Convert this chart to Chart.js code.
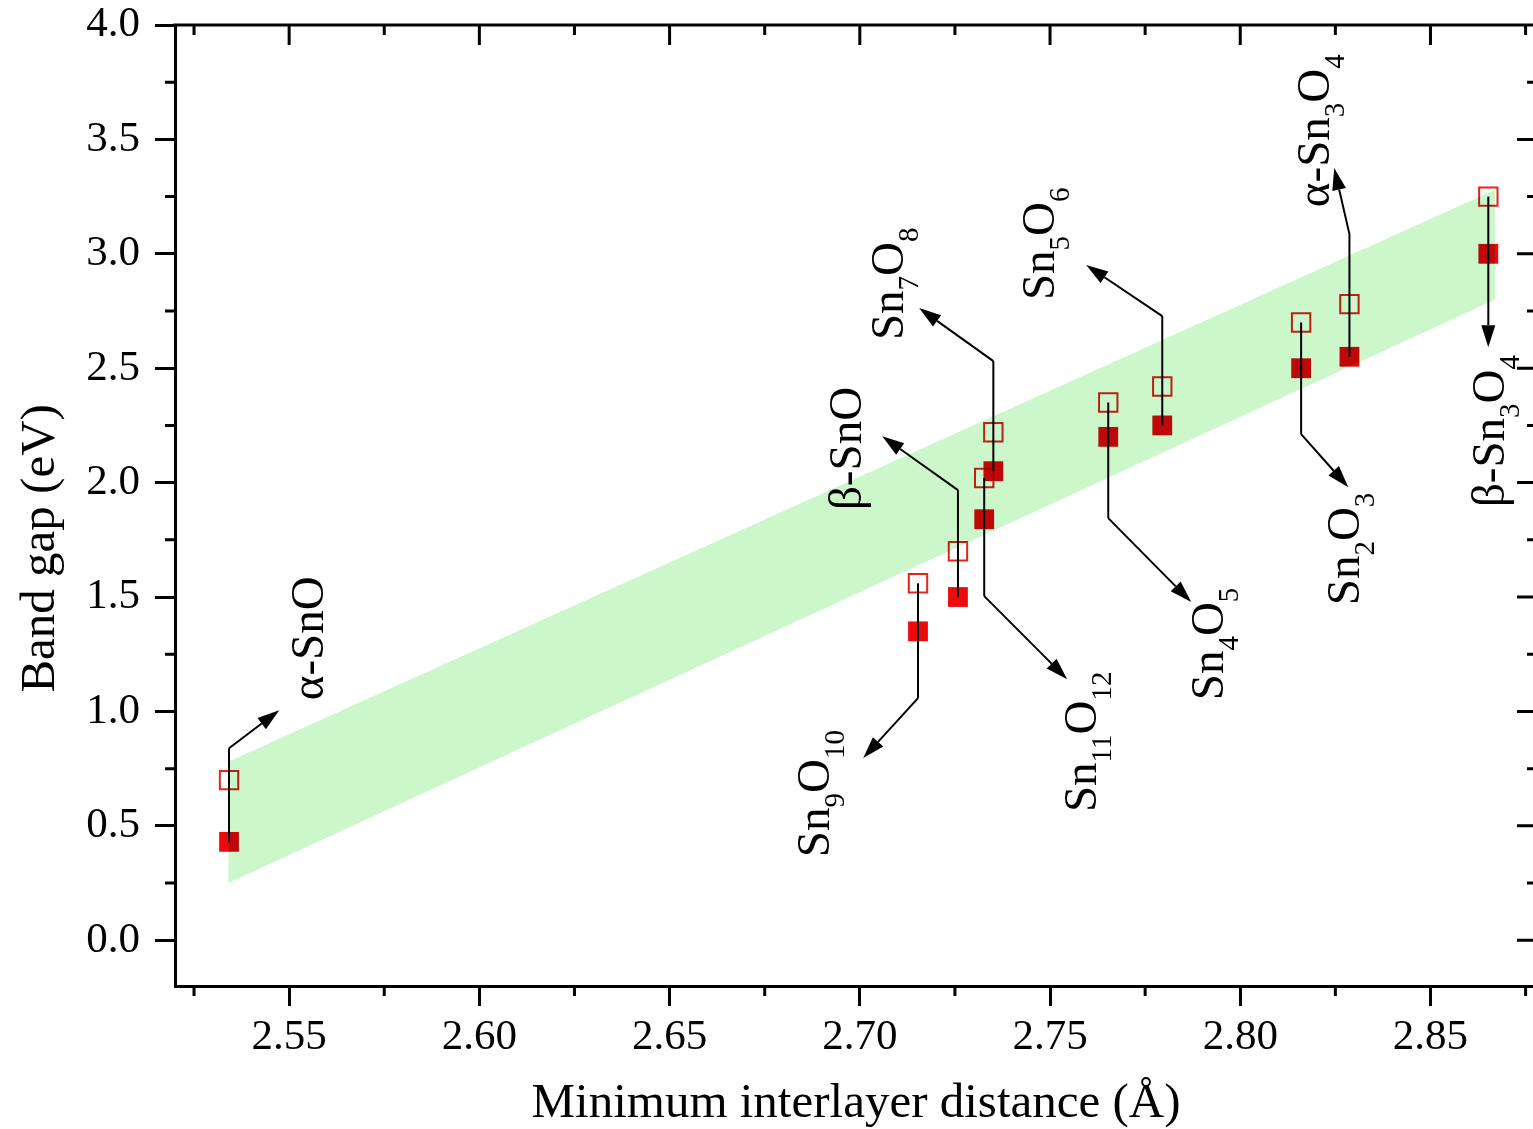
<!DOCTYPE html>
<html>
<head>
<meta charset="utf-8">
<script src="https://cdn.jsdelivr.net/npm/chart.js"></script>
<style>
  html, body { margin: 0; padding: 0; background: #fff; overflow: hidden; }
  #gapChart { display: block; }
</style>
</head>
<body>
<!-- wider than the window: the right frame line falls just outside the picture, as in the figure -->
<canvas id="gapChart" width="1552" height="1129"></canvas>

<script>
// phases, ordered by minimum interlayer distance
const phases = ['α-SnO', 'Sn9O10', 'β-SnO', 'Sn11O12', 'Sn7O8', 'Sn4O5', 'Sn5O6', 'Sn2O3', 'α-Sn3O4', 'β-Sn3O4']
// same names for the plot, "_n" = subscript
const phaseLabels = ['α-SnO', 'Sn_9O_10', 'β-SnO', 'Sn_11O_12', 'Sn_7O_8', 'Sn_4O_5', 'Sn_5O_6', 'Sn_2O_3', 'α-Sn_3O_4', 'β-Sn_3O_4']
const minDistance = [2.5342, 2.7153, 2.7258, 2.7327, 2.7351, 2.7653, 2.7795, 2.8160, 2.8287, 2.8652]
const gapSolid = [0.43, 1.35, 1.50, 1.84, 2.05, 2.20, 2.25, 2.50, 2.55, 3.00]
const gapOpen = [0.70, 1.56, 1.70, 2.02, 2.22, 2.35, 2.42, 2.70, 2.78, 3.25]

// green trend band (two edges)
const bandX = [2.534, 2.867]
const bandTop = [0.78, 3.28]
const bandBottom = [0.25, 2.80]

// callouts, in data units: marker the line starts at, bend height, arrow tip, label start (baseline x, first letter y)
const callouts = [
  {i: 0, from: 'solid', bend: 0.839, tip: [2.5474, 1.005], at: [2.5589, 1.049]},
  {i: 1, from: 'open',  bend: 1.058, tip: [2.7009, 0.796], at: [2.6920, 0.363]},
  {i: 2, from: 'solid', bend: 1.967, tip: [2.7059, 2.203], at: [2.7004, 1.880]},
  {i: 3, from: 'open',  bend: 1.504, tip: [2.7545, 1.141], at: [2.7621, 0.560]},
  {i: 4, from: 'solid', bend: 2.531, tip: [2.7156, 2.763], at: [2.7114, 2.623]},
  {i: 5, from: 'open',  bend: 1.845, tip: [2.7871, 1.478], at: [2.7955, 1.049]},
  {i: 6, from: 'solid', bend: 2.728, tip: [2.7595, 2.951], at: [2.7511, 2.798]},
  {i: 7, from: 'open',  bend: 2.212, tip: [2.8284, 1.980], at: [2.8313, 1.464]},
  {i: 8, from: 'solid', bend: 3.086, tip: [2.8247, 3.375], at: [2.8234, 3.204]},
  {i: 9, from: 'open',  bend: null,  tip: [2.8652, 2.592], at: [2.8694, 1.893]}
]

const FONT = 'Liberation Serif'

// rotated formula label with subscripts
function drawFormula(ctx, text, x, y) {
  ctx.save()
  ctx.translate(x, y)
  ctx.rotate(-Math.PI / 2)
  ctx.textAlign = 'left'
  ctx.textBaseline = 'alphabetic'
  ctx.fillStyle = '#000'
  let cx = 0
  text.split(/(_\d+)/).filter(Boolean).forEach(part => {
    const sub = part[0] == '_'
    const s = sub ? part.slice(1) : part
    ctx.font = (sub ? 29 : 47) + 'px "' + FONT + '"'
    ctx.fillText(s, cx, sub ? 15 : 0)
    cx += ctx.measureText(s).width
  })
  ctx.restore()
}

function arrowHead(ctx, fx, fy, tx, ty) {
  const a = Math.atan2(ty - fy, tx - fx)
  const len = 22, hw = 7
  const bx = tx - len * Math.cos(a), by = ty - len * Math.sin(a)
  ctx.beginPath()
  ctx.moveTo(fx, fy)
  ctx.lineTo(bx, by)
  ctx.stroke()
  ctx.beginPath()
  ctx.moveTo(tx, ty)
  ctx.lineTo(bx + hw * Math.sin(a), by - hw * Math.cos(a))
  ctx.lineTo(bx - hw * Math.sin(a), by + hw * Math.cos(a))
  ctx.closePath()
  ctx.fill()
}

function drawCallouts(chart) {
  const {ctx, scales: {x, y}} = chart
  ctx.save()
  ctx.strokeStyle = '#000'
  ctx.fillStyle = '#000'
  ctx.lineWidth = 2
  callouts.forEach(c => {
    const px = x.getPixelForValue(minDistance[c.i])
    const py = y.getPixelForValue(c.from == 'solid' ? gapSolid[c.i] : gapOpen[c.i])
    let fx = px, fy = py
    if (c.bend !== null) {
      const by = y.getPixelForValue(c.bend)
      ctx.beginPath()
      ctx.moveTo(px, py)
      ctx.lineTo(px, by)
      ctx.stroke()
      fy = by
    }
    arrowHead(ctx, fx, fy, x.getPixelForValue(c.tip[0]), y.getPixelForValue(c.tip[1]))
    drawFormula(ctx, phaseLabels[c.i], x.getPixelForValue(c.at[0]), y.getPixelForValue(c.at[1]))
  })
  ctx.restore()
}

// minor tick values halfway between the majors
function minorValues(scale) {
  const major = scale.ticks.map(t => t.value)
  const step = major[1] - major[0]
  const out = []
  for (let v = major[0] - step / 2; v <= scale.max + 1e-9; v += step) {
    if (v >= scale.min - 1e-9) out.push(v)
  }
  return out
}

// top/right frame, inner ticks and minor ticks
function drawFrame(chart) {
  const {ctx, chartArea: a, scales: {x, y}} = chart
  ctx.save()
  ctx.strokeStyle = '#000'
  ctx.lineWidth = 3
  ctx.beginPath()
  ctx.moveTo(a.left - 1.5, a.top)
  ctx.lineTo(a.right + 1.5, a.top)
  ctx.moveTo(a.right, a.top)
  ctx.lineTo(a.right, a.bottom + 1.5)
  x.ticks.forEach(t => {
    const p = x.getPixelForValue(t.value)
    ctx.moveTo(p, a.top); ctx.lineTo(p, a.top + 20)
  })
  minorValues(x).forEach(v => {
    const p = x.getPixelForValue(v)
    ctx.moveTo(p, a.top); ctx.lineTo(p, a.top + 10)
    ctx.moveTo(p, a.bottom); ctx.lineTo(p, a.bottom + 10)
  })
  y.ticks.forEach(t => {
    const p = y.getPixelForValue(t.value)
    ctx.moveTo(a.right - 20, p); ctx.lineTo(a.right, p)
  })
  minorValues(y).forEach(v => {
    const p = y.getPixelForValue(v)
    ctx.moveTo(a.right - 10, p); ctx.lineTo(a.right, p)
    ctx.moveTo(a.left - 10, p); ctx.lineTo(a.left, p)
  })
  ctx.stroke()
  ctx.restore()
}

const extras = {
  id: 'extras',
  beforeDraw(chart) {
    const ctx = chart.ctx
    ctx.save()
    ctx.fillStyle = '#fff'
    ctx.fillRect(0, 0, chart.width, chart.height)
    ctx.restore()
  },
  // band and markers multiply, so red squares under the band turn darker
  beforeDatasetsDraw(chart) {
    chart.ctx.save()
    chart.ctx.globalCompositeOperation = 'multiply'
  },
  afterDatasetsDraw(chart) {
    chart.ctx.restore()
    drawCallouts(chart)
  },
  afterDraw(chart) {
    drawFrame(chart)
  }
}

const tickFont = {family: FONT, size: 43}
const titleFont = {family: FONT, size: 49, lineHeight: 1}

const gapChart = new Chart(document.getElementById('gapChart'), {
  type: 'line',
  data: {
    datasets: [
      {
        label: 'band top',
        data: bandX.map((v, k) => ({x: v, y: bandTop[k]})),
        borderColor: 'rgba(0,0,0,0)',
        borderWidth: 0,
        pointRadius: 0,
        fill: '+1',
        backgroundColor: '#cbf7cb'
      },
      {
        label: 'band bottom',
        data: bandX.map((v, k) => ({x: v, y: bandBottom[k]})),
        borderColor: 'rgba(0,0,0,0)',
        borderWidth: 0,
        pointRadius: 0,
        fill: false
      },
      {
        label: 'solid',
        data: minDistance.map((v, k) => ({x: v, y: gapSolid[k]})),
        showLine: false,
        pointStyle: 'rect',
        pointRadius: 14,
        pointBorderWidth: 0,
        pointBackgroundColor: '#ee0a0a',
        pointBorderColor: '#ee0a0a'
      },
      {
        label: 'open',
        data: minDistance.map((v, k) => ({x: v, y: gapOpen[k]})),
        showLine: false,
        pointStyle: 'rect',
        pointRadius: 13,
        pointBorderWidth: 2,
        pointBorderColor: '#e5231b',
        pointBackgroundColor: 'rgba(0,0,0,0)'
      }
    ]
  },
  options: {
    responsive: false,
    animation: false,
    events: [],
    layout: {padding: {top: 25, right: 0, left: 0, bottom: 0}},
    plugins: {
      legend: {display: false},
      tooltip: {enabled: false}
    },
    scales: {
      x: {
        type: 'linear',
        min: 2.52,
        max: 2.878,
        border: {display: true, width: 3, color: '#000'},
        grid: {display: true, drawOnChartArea: false, drawTicks: true, tickLength: 20, tickWidth: 3, tickColor: '#000'},
        ticks: {
          stepSize: 0.05,
          includeBounds: false,
          autoSkip: false,
          maxRotation: 0,
          padding: 6,
          color: '#000',
          font: tickFont,
          callback: v => v.toFixed(2)
        },
        title: {display: true, text: 'Minimum interlayer distance (Å)', color: '#000', font: titleFont, padding: {top: 1, bottom: 0}},
        afterFit: s => { s.height = 143; s.paddingLeft = 0; s.paddingRight = 0 }
      },
      y: {
        type: 'linear',
        min: -0.2,
        max: 4.0,
        border: {display: true, width: 3, color: '#000'},
        grid: {display: true, drawOnChartArea: false, drawTicks: true, tickLength: 20, tickWidth: 3, tickColor: '#000'},
        ticks: {
          stepSize: 0.5,
          includeBounds: false,
          padding: 15,
          color: '#000',
          font: tickFont,
          callback: v => v.toFixed(1)
        },
        // trailing spaces push the centred title a little down, as in the figure
        title: {display: true, text: 'Band gap (eV)\u00a0\u00a0\u00a0\u00a0\u00a0\u00a0\u00a0', color: '#000', font: titleFont, padding: {top: 17, bottom: 0}},
        afterFit: s => { s.width = 175; s.paddingTop = 0; s.paddingBottom = 0 }
      }
    }
  },
  plugins: [extras]
})
</script>
</body>
</html>
